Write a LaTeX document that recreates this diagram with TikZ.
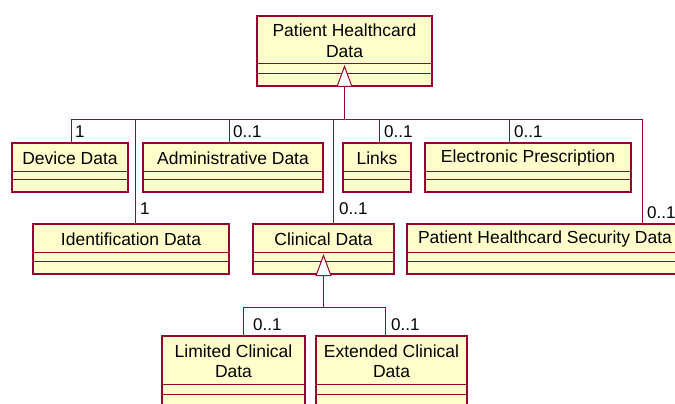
\documentclass[tikz,border=0pt]{standalone}
\usepackage{fontspec}
\setmainfont{Liberation Sans}
\usetikzlibrary{arrows.meta}
\definecolor{umlred}{RGB}{153,0,51}
\definecolor{umlfill}{RGB}{255,255,204}
\tikzset{
  classbox/.style={draw=umlred, line width=1.2pt, fill=umlfill},
  complines/.style={draw=umlred, line width=0.9pt},
  nametext/.style={inner sep=0pt, outer sep=0pt, align=center, font=\fontsize{17.5}{20.5}\selectfont, text=black},
  assoc/.style={draw=umlred, line width=1pt},
  gen/.style={assoc, -{Triangle[open, length=22pt, width=16pt, line width=1pt, fill=white]}},
  mult/.style={inner sep=0pt, anchor=base west, font=\fontsize{17}{20}\selectfont, text=black}
}
% #1 name, #2 x1, #3 x2, #4 ytop, #5 yname, #6 ymid, #7 ybottom, #8 text
\newcommand{\umlclass}[8]{%
  \path[classbox] (#2,#4) rectangle (#3,#7);
  \draw[complines] (#2,#5) -- (#3,#5);
  \draw[complines] (#2,#6) -- (#3,#6);
  \path[classbox, fill=none] (#2,#4) rectangle (#3,#7);
  \node[nametext, minimum width={(#3)-(#2)}, minimum height={(#5)-(#4)}] (#1) at ({((#2)+(#3))/2},{((#4)+(#5))/2+1}) {#8};
}
\begin{document}
\begin{tikzpicture}[x=1pt, y=-1pt]
\useasboundingbox (0,0) rectangle (675,404);
\clip (0,0) rectangle (675,404);
\fill[white] (0,0) rectangle (675,404);

% classes
\umlclass{phd}{257}{432}{16}{63}{73}{86}{Patient Healthcard\\Data}
\umlclass{dev}{12}{128}{143}{171}{179}{192}{Device Data}
\umlclass{adm}{143}{323}{143}{171}{179}{192}{Administrative Data}
\umlclass{lnk}{343}{411}{143}{171}{179}{192}{Links}
\umlclass{epr}{425}{631}{143}{171}{179}{192}{Electronic Prescription}
\umlclass{idd}{33}{229}{224}{252}{261}{274}{Identification Data}
\umlclass{cli}{253}{394}{224}{252}{261}{274}{Clinical Data}
\umlclass{sec}{407}{683}{224}{252}{261}{274}{Patient Healthcard Security Data}
\umlclass{lim}{162}{305}{336}{384}{394}{420}{Limited Clinical\\Data}
\umlclass{ext}{316}{467}{336}{384}{394}{420}{Extended Clinical\\Data}

% top generalisation bus
\coordinate (bus) at (344.5,119);
\coordinate (busL) at (71,119);
\coordinate (busR) at (642,119);
\draw[gen] (bus) -- ([yshift=-1pt]phd.south);
\draw[assoc] (busL) -- (busR);

\coordinate (devT) at ([xshift=1pt, yshift=1pt]dev.north);
\coordinate (admT) at ([xshift=-4pt, yshift=1pt]adm.north);
\coordinate (lnkT) at ([xshift=2pt, yshift=1pt]lnk.north);
\coordinate (eprT) at ([xshift=-19pt, yshift=1pt]epr.north);
\coordinate (iddT) at ([xshift=4pt, yshift=1pt]idd.north);
\coordinate (cliT) at ([xshift=9.5pt, yshift=1pt]cli.north);
\coordinate (secT) at ([xshift=97pt, yshift=1pt]sec.north);

\draw[assoc] (devT) -- (devT |- bus);
\draw[assoc] (admT) -- (admT |- bus);
\draw[assoc] (lnkT) -- (lnkT |- bus);
\draw[assoc] (eprT) -- (eprT |- bus);
\draw[assoc] (iddT) -- (iddT |- bus);
\draw[assoc] (cliT) -- (cliT |- bus);
\draw[assoc] (secT) -- (secT |- bus);

\node[mult] (mdev) at ([xshift=4pt, yshift=6pt]devT) {1};
\node[mult] (madm) at ([xshift=4pt, yshift=6pt]admT) {0..1};
\node[mult] (mlnk) at ([xshift=5pt, yshift=6pt]lnkT) {0..1};
\node[mult] (mepr) at ([xshift=5pt, yshift=6pt]eprT) {0..1};
\node[mult] (midd) at ([xshift=5pt, yshift=10pt]iddT) {1};
\node[mult] (mcli) at ([xshift=6pt, yshift=10pt]cliT) {0..1};
\node[mult] (msec) at ([xshift=5pt, yshift=6pt]secT) {0..1};

% clinical generalisation
\coordinate (cbus) at (323.5,307);
\coordinate (cbusL) at (243,307);
\coordinate (cbusR) at (385,307);
\draw[gen] (cbus) -- ([yshift=-1pt]cli.south);
\draw[assoc] (cbusL) -- (cbusR);
\coordinate (limT) at ([xshift=9.5pt, yshift=1pt]lim.north);
\coordinate (extT) at ([xshift=-6.5pt, yshift=1pt]ext.north);
\draw[assoc] (limT) -- (limT |- cbus);
\draw[assoc] (extT) -- (extT |- cbus);
\node[mult] (mlim) at ([xshift=10pt, yshift=6pt]limT) {0..1};
\node[mult] (mext) at ([xshift=6pt, yshift=6pt]extT) {0..1};
\end{tikzpicture}
\end{document}
